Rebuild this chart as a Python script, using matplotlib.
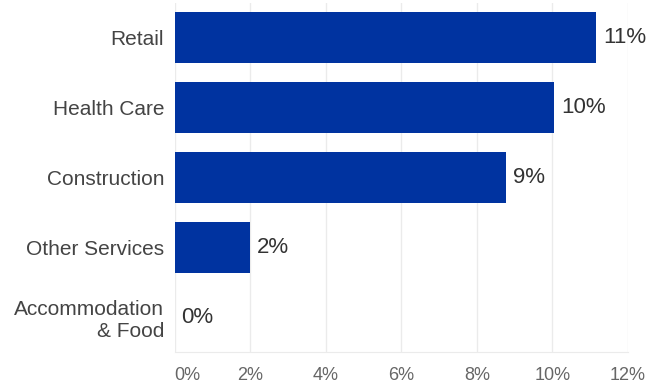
import matplotlib
matplotlib.use("Agg")
import matplotlib.pyplot as plt
from matplotlib.ticker import FuncFormatter
from matplotlib.transforms import offset_copy

categories = ["Retail", "Health Care", "Construction", "Other Services", "Accommodation\n& Food"]
values = [11.15, 10.05, 8.77, 2.0, 0.0]
value_labels = ["11%", "10%", "9%", "2%", "0%"]
x_ticks = [0, 2, 4, 6, 8, 10, 12]

plt.rcParams["font.family"] = ["Liberation Sans", "DejaVu Sans"]

W, H, DPI = 651, 387, 100
fig = plt.figure(figsize=(W / DPI, H / DPI), dpi=DPI)
left, right = 174.5, 628.0
top, bottom = 2.5, 352.0
ax = fig.add_axes([left / W, 1 - bottom / H, (right - left) / W, (bottom - top) / H])

ypos = list(range(len(categories)))
ax.barh(ypos, values, height=0.73, color="#0033a0", zorder=2)

ax.set_xlim(0, 12)
ax.set_ylim(len(categories) - 0.5, -0.5)
ax.set_xticks(x_ticks)
ax.xaxis.set_major_formatter(FuncFormatter(lambda v, p: f"{v:.0f}%"))
ax.set_yticks(ypos)
ax.set_yticklabels(categories, ha="right", multialignment="right")

ax.grid(axis="x", color="#ebebeb", linewidth=1, zorder=0)
for s in ["top", "right", "left"]:
    ax.spines[s].set_visible(False)
ax.spines["bottom"].set_color("#ebebeb")

ax.tick_params(axis="x", length=0, pad=10.5, labelsize=13, labelcolor="#666666")
ax.tick_params(axis="y", length=0, pad=7.5, labelsize=15, labelcolor="#444444")

fig.canvas.draw()
ax.get_xticklabels()[0].set_horizontalalignment("left")

trans = offset_copy(ax.transData, fig=fig, x=7, y=0, units="dots")
for y, v, lab in zip(ypos, values, value_labels):
    ax.text(v, y, lab, transform=trans, va="center", ha="left",
            fontsize=16, color="#333333", clip_on=False)

fig.savefig("out.png", dpi=DPI)
